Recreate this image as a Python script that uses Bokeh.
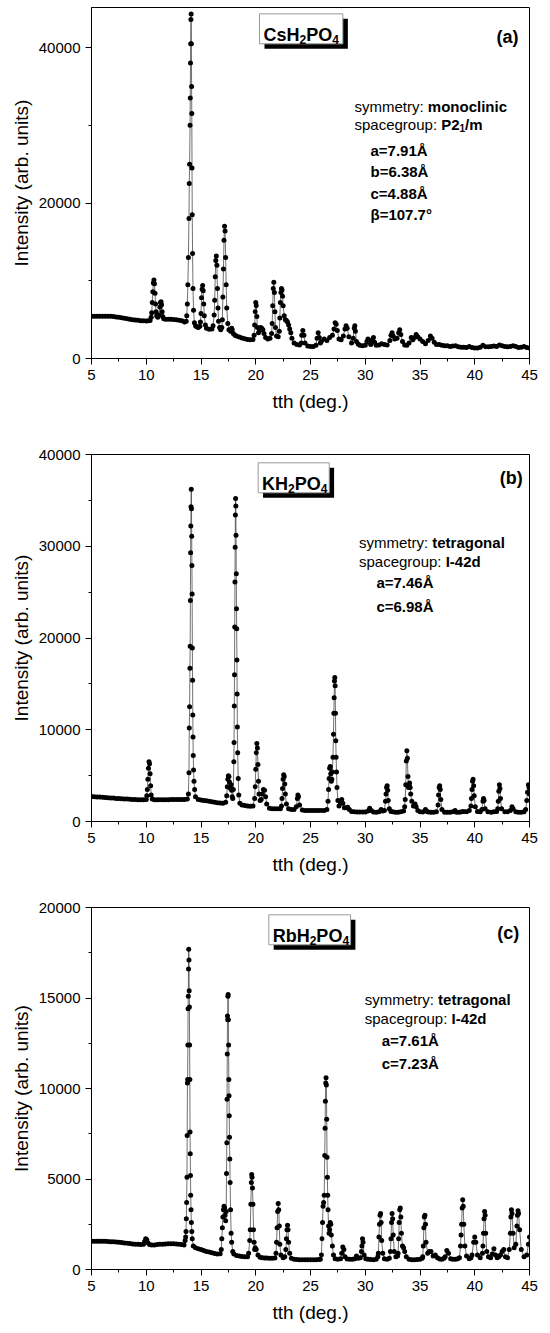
from bokeh.plotting import figure
from bokeh.layouts import column
from bokeh.models import Range1d, FixedTicker, Label
from bokeh.embed import file_html
from bokeh.resources import INLINE

# ---------------- data ----------------
x_ticks = [5, 10, 15, 20, 25, 30, 35, 40, 45]
x_tick_labels = ["5", "10", "15", "20", "25", "30", "35", "40", "45"]
x_minor_ticks = [7.5, 12.5, 17.5, 22.5, 27.5, 32.5, 37.5, 42.5]

y_ticks_a = [0, 20000, 40000]
y_tick_labels_a = ["0", "20000", "40000"]
y_minor_a = [10000, 30000]

y_ticks_b = [0, 10000, 20000, 30000, 40000]
y_tick_labels_b = ["0", "10000", "20000", "30000", "40000"]
y_minor_b = [5000, 15000, 25000, 35000]

y_ticks_c = [0, 5000, 10000, 15000, 20000]
y_tick_labels_c = ["0", "5000", "10000", "15000", "20000"]
y_minor_c = [2500, 7500, 12500, 17500]

# (2theta in deg, intensity in arb. units)
xrd_a = [
    (5.0, 5450), (5.25, 5450), (5.5, 5450), (5.75, 5450), (6.0, 5450), (6.25, 5450), (6.5, 5440), (6.75, 5420),
    (7.0, 5400), (7.25, 5350), (7.5, 5300), (7.75, 5240), (8.0, 5180), (8.25, 5120), (8.5, 5060), (8.75, 5000),
    (9.0, 4950), (9.25, 4910), (9.5, 4870), (9.75, 4850), (10.0, 4830), (10.2, 4840), (10.35, 4900),
    (10.45, 5300), (10.5, 5900), (10.55, 7200), (10.6, 8600), (10.65, 9700), (10.7, 10100), (10.75, 9600),
    (10.8, 8400), (10.85, 7000), (10.9, 6000), (10.95, 5500), (11.05, 5300), (11.15, 5600), (11.25, 6600),
    (11.3, 7200), (11.35, 7300), (11.4, 6900), (11.45, 6000), (11.5, 5400), (11.6, 5100),
    (11.75, 5050), (12.0, 5050), (12.25, 5050), (12.5, 5030), (12.75, 5000), (13.0, 4930), (13.25, 4850), (13.5, 4700),
    (13.65, 4800), (13.7, 5500), (13.75, 7000), (13.8, 9500), (13.85, 13000), (13.9, 18000), (13.93, 22500),
    (13.96, 25000), (14.0, 30000), (14.02, 33500), (14.04, 38000), (14.06, 40500), (14.08, 43600), (14.1, 44300),
    (14.12, 40500), (14.14, 35000), (14.16, 31500), (14.18, 24500), (14.2, 18500), (14.23, 13500), (14.27, 9000),
    (14.32, 6200), (14.4, 4600), (14.5, 4200),
    (14.6, 4100), (14.75, 4000), (14.9, 4150), (14.95, 4700), (15.0, 5800), (15.05, 7800), (15.1, 8900), (15.15, 9400),
    (15.2, 8700), (15.25, 7000), (15.3, 5500), (15.4, 4300), (15.5, 3900), (15.75, 3750), (16.0, 3800), (16.1, 4200),
    (16.2, 5600), (16.25, 7500), (16.3, 10500), (16.35, 12600), (16.4, 13200), (16.45, 12000), (16.5, 9000),
    (16.55, 6500), (16.6, 4800), (16.7, 4000), (16.8, 3700), (16.9, 4000), (16.95, 5000), (17.0, 7900),
    (17.05, 11500), (17.1, 15200), (17.15, 17000), (17.2, 16400), (17.25, 13000), (17.3, 9500), (17.35, 6500),
    (17.45, 4500), (17.55, 3700), (17.7, 3500), (17.8, 3900), (17.85, 3700), (17.95, 3200), (18.1, 3000),
    (18.25, 2900), (18.5, 2750), (18.75, 2650), (19.0, 2550), (19.25, 2450), (19.5, 2400), (19.75, 2450),
    (19.85, 3000), (19.9, 4300), (19.95, 6000), (20.0, 7200), (20.05, 6800), (20.1, 5400), (20.15, 4000),
    (20.25, 3300), (20.35, 3600), (20.45, 4000), (20.55, 3900), (20.65, 3700), (20.75, 3200), (20.9, 2700),
    (21.1, 2500), (21.3, 2600), (21.45, 3200), (21.5, 4500), (21.55, 6800), (21.6, 9000), (21.65, 9800),
    (21.7, 8500), (21.75, 6000), (21.8, 4000), (21.9, 2900), (22.05, 2800), (22.15, 3500), (22.2, 5200),
    (22.25, 7200), (22.3, 8500), (22.35, 9000), (22.4, 8800), (22.45, 8000), (22.5, 6800), (22.6, 5500),
    (22.7, 5000), (22.8, 4900), (22.9, 4700), (23.0, 4300), (23.1, 3800), (23.2, 3300), (23.3, 2600),
    (23.5, 2000), (23.75, 1800), (24.0, 1750), (24.15, 2000), (24.2, 3000), (24.3, 3600), (24.4, 3000),
    (24.5, 2000), (24.75, 1600), (25.0, 1550), (25.25, 1550), (25.5, 1700), (25.6, 2600), (25.7, 3300),
    (25.8, 2700), (25.9, 2000), (26.0, 2200), (26.25, 2500), (26.5, 2300), (26.75, 2700), (27.0, 3000),
    (27.15, 3800), (27.25, 4600), (27.35, 4400), (27.45, 3600), (27.6, 2500), (27.8, 2400), (28.0, 2900),
    (28.15, 3800), (28.25, 4200), (28.35, 3900), (28.5, 2800), (28.75, 2000), (28.9, 2600), (29.0, 3900),
    (29.05, 4200), (29.1, 3500), (29.2, 2200), (29.35, 1850), (29.5, 1700), (29.75, 1650), (30.0, 1700),
    (30.15, 2200), (30.25, 2500), (30.35, 2100), (30.5, 1800), (30.65, 2400), (30.75, 2700), (30.85, 2100),
    (31.0, 1700), (31.25, 1750), (31.5, 1900), (31.75, 1800), (32.0, 1750), (32.25, 2300), (32.35, 3000),
    (32.45, 3300), (32.55, 2900), (32.7, 2500), (32.9, 2600), (33.05, 3300), (33.15, 3700), (33.25, 3100),
    (33.4, 2200), (33.6, 1750), (33.8, 1700), (34.0, 2000), (34.2, 2700), (34.35, 2400), (34.5, 2700),
    (34.65, 3100), (34.8, 2800), (35.0, 2500), (35.25, 2200), (35.5, 1900), (35.75, 2300), (35.95, 2900),
    (36.1, 2600), (36.3, 2100), (36.5, 1800), (36.75, 1800), (37.0, 1700), (37.25, 1650), (37.5, 1650),
    (37.75, 1550), (38.0, 1600), (38.25, 1650), (38.5, 1500), (38.75, 1450), (39.0, 1450), (39.25, 1400),
    (39.5, 1550), (39.75, 1400), (40.0, 1350), (40.25, 1350), (40.5, 1450), (40.75, 1700), (41.0, 1500),
    (41.25, 1500), (41.5, 1550), (41.75, 1600), (42.0, 1550), (42.25, 1750), (42.5, 1650), (42.75, 1550),
    (43.0, 1500), (43.25, 1550), (43.5, 1650), (43.75, 1550), (44.0, 1400), (44.25, 1450), (44.5, 1550),
    (44.75, 1400), (45.0, 1350),
]

xrd_b = [
    (5.0, 2720), (5.25, 2700), (5.5, 2680), (5.75, 2660), (6.0, 2640), (6.25, 2620), (6.5, 2590), (6.75, 2570),
    (7.0, 2550), (7.25, 2520), (7.5, 2500), (7.75, 2480), (8.0, 2460), (8.25, 2440), (8.5, 2420), (8.75, 2400),
    (9.0, 2390), (9.25, 2380), (9.5, 2370), (9.75, 2360), (10.0, 2400),
    (10.05, 2800), (10.1, 3500), (10.15, 4600), (10.2, 5800), (10.25, 6500), (10.3, 6300), (10.35, 5200),
    (10.4, 3900), (10.45, 2900), (10.55, 2450), (10.75, 2380), (11.0, 2380), (11.25, 2380), (11.5, 2380),
    (11.75, 2380), (12.0, 2380), (12.25, 2390), (12.5, 2390), (12.75, 2390), (13.0, 2390), (13.25, 2400),
    (13.5, 2400), (13.75, 2450),
    (13.85, 3000), (13.9, 5300), (13.93, 10200), (13.96, 12500), (13.99, 16700), (14.01, 19100), (14.03, 24100),
    (14.05, 29300), (14.07, 32200), (14.09, 34300), (14.11, 36200), (14.13, 34100), (14.15, 31100),
    (14.17, 27900), (14.19, 24800), (14.21, 18900), (14.23, 15400), (14.25, 11600), (14.27, 9200),
    (14.29, 7200), (14.32, 5600), (14.36, 4400), (14.42, 3500), (14.5, 2700),
    (14.75, 2400), (15.0, 2350), (15.25, 2300), (15.5, 2250), (15.75, 2200), (16.0, 2150), (16.25, 2100),
    (16.5, 2050), (16.75, 2020), (17.0, 2000), (17.25, 2100),
    (17.35, 2800), (17.4, 3800), (17.45, 4600), (17.5, 5000), (17.55, 4900), (17.6, 4300), (17.65, 3700),
    (17.7, 3600), (17.75, 4000), (17.8, 3400), (17.85, 2700), (17.9, 2500),
    (17.95, 3500), (18.0, 6500), (18.02, 8600), (18.04, 12600), (18.06, 16000), (18.08, 21200), (18.1, 26100),
    (18.12, 29900), (18.14, 33400), (18.16, 35200), (18.18, 34400), (18.2, 31200), (18.22, 27000),
    (18.24, 23200), (18.26, 21000), (18.28, 17600), (18.3, 13900), (18.32, 10300), (18.35, 7500),
    (18.4, 4700), (18.45, 2900), (18.55, 2000),
    (18.75, 1800), (19.0, 1750), (19.25, 1700), (19.5, 1650), (19.75, 1700),
    (19.9, 2500), (19.95, 3800), (20.0, 5700), (20.05, 7500), (20.1, 8500), (20.15, 8000), (20.2, 6200),
    (20.25, 4400), (20.3, 3000), (20.4, 2300), (20.5, 2400), (20.6, 3000), (20.7, 3500), (20.8, 3400),
    (20.9, 2700), (21.0, 1900), (21.25, 1450), (21.5, 1400), (21.75, 1380), (22.0, 1380), (22.25, 1400),
    (22.35, 1700), (22.4, 2500), (22.45, 3600), (22.5, 4600), (22.55, 5100), (22.6, 4900), (22.65, 4100),
    (22.7, 3000), (22.8, 1900), (23.0, 1400), (23.25, 1300), (23.5, 1300), (23.7, 1600), (23.8, 2500),
    (23.85, 2900), (23.9, 2700), (24.0, 1800), (24.25, 1250), (24.5, 1200), (24.75, 1200), (25.0, 1200),
    (25.25, 1200), (25.5, 1200), (25.75, 1200), (26.0, 1200), (26.25, 1200), (26.5, 1300), (26.6, 2200),
    (26.65, 3500), (26.7, 4700), (26.75, 5800), (26.8, 6000), (26.85, 5200), (26.9, 4400), (26.95, 4600),
    (27.0, 5400), (27.05, 7000), (27.1, 9500), (27.13, 11800), (27.16, 13500), (27.19, 15300), (27.22, 15700),
    (27.25, 14800), (27.28, 11800), (27.31, 8800), (27.34, 7000), (27.38, 5400), (27.42, 3700), (27.5, 2300),
    (27.6, 1700), (27.75, 2000), (27.85, 2400), (27.95, 2000), (28.1, 1500), (28.25, 1500), (28.4, 1550),
    (28.55, 1300), (28.75, 1100), (29.0, 1050), (29.25, 1040), (29.5, 1030), (29.75, 1030), (30.0, 1030),
    (30.25, 1150), (30.4, 1450), (30.55, 1200), (30.75, 1030), (31.0, 1020), (31.25, 1050), (31.45, 1300),
    (31.6, 1150), (31.75, 1200), (31.85, 2200), (31.9, 3000), (31.95, 3700), (32.0, 3900), (32.05, 3400),
    (32.1, 2300), (32.2, 1400), (32.35, 1100), (32.5, 1050), (32.75, 1020), (33.0, 1020), (33.25, 1050),
    (33.5, 1150), (33.6, 1600), (33.65, 2400), (33.7, 4000), (33.75, 6600), (33.8, 7700), (33.85, 6900),
    (33.9, 4900), (33.95, 3700), (34.0, 3900), (34.05, 4200), (34.1, 3700), (34.15, 3000), (34.25, 2200),
    (34.4, 1700), (34.55, 1900), (34.65, 1600), (34.8, 1200), (35.0, 1050), (35.25, 1030), (35.5, 1300),
    (35.65, 1100), (35.75, 1030), (36.0, 1000), (36.25, 1000), (36.5, 1050), (36.65, 1800), (36.7, 2900),
    (36.75, 3700), (36.8, 3900), (36.85, 3500), (36.9, 2400), (37.0, 1300), (37.25, 1020), (37.5, 1000),
    (37.75, 1000), (38.0, 1050), (38.2, 1200), (38.35, 1020), (38.6, 1000), (38.8, 1050), (39.0, 1100),
    (39.25, 1050), (39.5, 1200), (39.65, 1700), (39.7, 2500), (39.75, 3500), (39.8, 4400), (39.85, 4600),
    (39.9, 3900), (39.95, 2800), (40.05, 1600), (40.25, 1100), (40.5, 1050), (40.65, 1300), (40.75, 2200),
    (40.8, 2500), (40.85, 2300), (40.95, 1400), (41.2, 1050), (41.5, 1000), (41.75, 1050), (42.0, 1100),
    (42.1, 1400), (42.15, 2200), (42.2, 3300), (42.25, 4000), (42.3, 3600), (42.35, 2500), (42.45, 1400),
    (42.75, 1050), (43.0, 1050), (43.25, 1200), (43.4, 1600), (43.5, 1400), (43.75, 1050), (44.0, 1000),
    (44.25, 1000), (44.5, 1050), (44.65, 1300), (44.75, 2300), (44.82, 3200), (44.9, 4000), (44.96, 3700),
    (45.0, 3000),
]

xrd_c = [
    (5.0, 1560), (5.25, 1560), (5.5, 1560), (5.75, 1560), (6.0, 1560), (6.25, 1555), (6.5, 1550), (6.75, 1540),
    (7.0, 1530), (7.25, 1515), (7.5, 1500), (7.75, 1485), (8.0, 1470), (8.25, 1450), (8.5, 1430), (8.75, 1415),
    (9.0, 1400), (9.25, 1390), (9.5, 1380), (9.75, 1400), (9.85, 1550), (9.95, 1700), (10.05, 1650),
    (10.15, 1480), (10.3, 1380), (10.5, 1350), (10.75, 1360), (11.0, 1380), (11.25, 1390), (11.5, 1400),
    (11.75, 1410), (12.0, 1420), (12.25, 1420), (12.5, 1420), (12.75, 1410), (13.0, 1400), (13.25, 1380),
    (13.45, 1350), (13.55, 1600),
    (13.6, 1800), (13.63, 2100), (13.66, 2800), (13.69, 3700), (13.72, 5100), (13.74, 7400), (13.76, 10300),
    (13.78, 10500), (13.8, 12400), (13.82, 14400), (13.84, 15100), (13.86, 16600), (13.88, 17700),
    (13.9, 17100), (13.92, 15400), (13.94, 14500), (13.96, 12400), (13.98, 10500), (14.0, 7600), (14.02, 6400),
    (14.04, 5200), (14.06, 4100), (14.09, 3300), (14.12, 2600), (14.16, 2100), (14.2, 1700), (14.3, 1300),
    (14.5, 1200), (14.75, 1150), (15.0, 1100), (15.25, 1050), (15.5, 1000), (15.75, 960), (16.0, 920),
    (16.25, 880), (16.5, 850), (16.75, 870), (16.85, 1100),
    (16.9, 1700), (16.95, 2300), (17.0, 2900), (17.05, 3300), (17.1, 3500), (17.15, 3400), (17.2, 3000),
    (17.25, 2700), (17.3, 3200),
    (17.33, 5300), (17.36, 7000), (17.38, 9400), (17.4, 11900), (17.42, 14000), (17.44, 13800), (17.46, 15100),
    (17.48, 15200), (17.5, 13800), (17.52, 12400), (17.54, 10500), (17.56, 9600), (17.58, 8500), (17.6, 7300),
    (17.63, 6100), (17.66, 4800), (17.7, 3300), (17.75, 2000), (17.8, 1500), (17.9, 1000), (18.0, 850),
    (18.25, 780), (18.5, 740), (18.75, 720), (19.0, 700), (19.25, 700), (19.35, 900), (19.45, 1600),
    (19.5, 2200), (19.55, 3600), (19.6, 4800), (19.63, 5250), (19.66, 5100), (19.7, 4500), (19.75, 3600),
    (19.8, 2200), (19.85, 1500), (19.9, 1100), (19.95, 1200), (20.05, 1100), (20.2, 800), (20.4, 680),
    (20.6, 650), (20.8, 640), (21.0, 630), (21.25, 620), (21.5, 620), (21.75, 640), (21.85, 900), (21.9, 1500),
    (21.95, 2300), (22.0, 3200), (22.05, 3650), (22.1, 3300), (22.15, 2400), (22.2, 1400), (22.3, 800),
    (22.5, 650), (22.65, 700), (22.75, 1100), (22.8, 1700), (22.85, 2200), (22.9, 2450), (22.95, 2200),
    (23.0, 1500), (23.1, 900), (23.25, 620), (23.5, 560), (23.75, 550), (24.0, 540), (24.25, 540), (24.5, 540),
    (24.75, 540), (25.0, 540), (25.25, 540), (25.5, 540), (25.75, 550), (25.9, 560), (26.0, 800),
    (26.05, 1700), (26.1, 2600), (26.15, 3500), (26.2, 3700), (26.25, 4100), (26.3, 6300), (26.33, 7800),
    (26.36, 9300), (26.39, 10300), (26.42, 10600), (26.45, 10200), (26.48, 8300), (26.51, 6200), (26.54, 5100),
    (26.57, 4100), (26.6, 3300), (26.65, 2400), (26.7, 2000), (26.75, 2200), (26.8, 2600), (26.85, 2500),
    (26.9, 1900), (27.0, 1300), (27.1, 800), (27.25, 600), (27.5, 560), (27.75, 600), (27.85, 900),
    (27.95, 1250), (28.05, 1100), (28.15, 700), (28.35, 580), (28.6, 560), (28.85, 560), (29.05, 600),
    (29.2, 750), (29.35, 620), (29.55, 650), (29.65, 1000), (29.7, 1300), (29.75, 1700), (29.8, 1500),
    (29.9, 800), (30.05, 600), (30.25, 560), (30.5, 550), (30.75, 540), (31.0, 560), (31.15, 700),
    (31.2, 900), (31.25, 1800), (31.3, 2500), (31.35, 3000), (31.4, 3100), (31.45, 2600), (31.5, 1600),
    (31.6, 900), (31.75, 600), (32.0, 560), (32.2, 620), (32.3, 1000), (32.35, 1700), (32.4, 2600),
    (32.45, 3100), (32.5, 2800), (32.55, 1900), (32.65, 1000), (32.8, 700), (32.95, 750), (33.0, 900),
    (33.05, 1700), (33.1, 2600), (33.15, 3300), (33.2, 3400), (33.25, 2900), (33.3, 2000), (33.4, 1300),
    (33.5, 1200), (33.6, 1000), (33.75, 700), (34.0, 560), (34.25, 540), (34.5, 540), (34.75, 550),
    (35.0, 560), (35.2, 620), (35.25, 700), (35.3, 1300), (35.35, 2300), (35.4, 2900), (35.45, 3000),
    (35.5, 2500), (35.55, 1500), (35.7, 900), (35.85, 1000), (36.0, 1000), (36.2, 750), (36.4, 800),
    (36.6, 650), (36.8, 580), (37.0, 560), (37.2, 620), (37.3, 700), (37.45, 1050), (37.6, 900), (37.8, 600),
    (38.0, 560), (38.25, 560), (38.45, 600), (38.6, 650), (38.7, 1300), (38.75, 1900), (38.8, 2500),
    (38.85, 3400), (38.9, 3850), (38.95, 3500), (39.0, 2500), (39.1, 1300), (39.25, 750), (39.5, 600),
    (39.65, 650), (39.75, 800), (39.9, 1500), (40.0, 1800), (40.1, 1500), (40.25, 800), (40.5, 650),
    (40.7, 900), (40.75, 1300), (40.8, 2000), (40.85, 2800), (40.9, 3200), (40.95, 3000), (41.0, 2000),
    (41.1, 1000), (41.25, 700), (41.45, 650), (41.6, 850), (41.75, 1150), (41.9, 800), (42.05, 650),
    (42.2, 700), (42.35, 800), (42.5, 1000), (42.65, 1100), (42.8, 700), (43.0, 650), (43.15, 1100),
    (43.25, 2000), (43.3, 2900), (43.35, 3300), (43.4, 3100), (43.5, 2000), (43.6, 1200), (43.75, 1400),
    (43.85, 2400), (43.9, 3000), (43.95, 3250), (44.0, 3100), (44.1, 2200), (44.25, 1100), (44.5, 700),
    (44.75, 800), (44.9, 1400), (45.0, 1800),
]

compounds = [[("CsH", False), ("2", True), ("PO", False), ("4", True)],
             [("KH", False), ("2", True), ("PO", False), ("4", True)],
             [("RbH", False), ("2", True), ("PO", False), ("4", True)]]
panel_tags = ["(a)", "(b)", "(c)"]
symmetries = ["monoclinic", "tetragonal", "tetragonal"]
spacegroups = [[("P2", False), ("1", True), ("/m", False)],
               [("I-42d", False)],
               [("I-42d", False)]]
cell_params = [["a=7.91Å", "b=6.38Å", "c=4.88Å", "β=107.7°"],
               ["a=7.46Å", "c=6.98Å"],
               ["a=7.61Å", "c=7.23Å"]]

# ---------------- styling / layout ----------------
FONT = "Liberation Sans"
REG_W = {" ": 278, ":": 278, "a": 556, "c": 500, "e": 556, "g": 556, "m": 833, "o": 556,
         "p": 556, "r": 333, "s": 500, "t": 278, "u": 556, "y": 500}
BOLD_W = {" ": 278, "(": 333, ")": 333, "-": 333, ".": 278, "/": 278, "=": 584,
          "C": 722, "H": 722, "I": 278, "K": 722, "O": 778, "P": 667, "R": 722,
          "a": 556, "b": 611, "c": 556, "d": 611, "m": 889, "s": 556}


def tw(s, size, bold):
    table = BOLD_W if bold else REG_W
    return sum(table.get(ch, 556) for ch in s) * size / 1000.0


# reference geometry of each frame (pixels of the reference picture)
ref_geom = [
    dict(L=91, R=529, B=358, ppu=(358 - 47) / 40000),
    dict(L=83, R=535, B=821, ppu=(821 - 454) / 40000),
    dict(L=84, R=536, B=1269, ppu=(1269 - 907) / 20000),
]
# figure sizes: width, height, borders (left, right, top, bottom), y max
fig_spec = [
    dict(W=548, H=430, bl=91, br=19, bt=7, bb=72, ymax=45150),
    dict(W=548, H=450, bl=83, br=13, bt=24, bb=59, ymax=40000),
    dict(W=548, H=450, bl=84, br=12, bt=27, bb=61, ymax=20000),
]
# annotation positions (reference pixels)
ann_pos = [
    dict(title_x=263, title_base=34, tag_right=518, tag_base=36.6, info_x=354, sym_base=106,
         sg_base=124, param_x=370, param_bases=[150, 171, 192.5, 213.5]),
    dict(title_x=259, title_base=483, tag_right=528, tag_base=477.6, info_x=359, sym_base=542,
         sg_base=561, param_x=377, param_bases=[582, 606]),
    dict(title_x=271, title_base=935, tag_right=525.5, tag_base=932.6, info_x=366, sym_base=999,
         sg_base=1018, param_x=383.5, param_bases=[1040, 1063]),
]
tick_sets = [(y_ticks_a, y_tick_labels_a, y_minor_a),
             (y_ticks_b, y_tick_labels_b, y_minor_b),
             (y_ticks_c, y_tick_labels_c, y_minor_c)]
datasets = [xrd_a, xrd_b, xrd_c]


def add_label(p, x, y, text, size, bold, x_offset=0, align="left"):
    p.add_layout(Label(x=x, y=y, x_offset=x_offset, text=text, text_font=FONT,
                       text_font_size=f"{size}px",
                       text_font_style="bold" if bold else "normal",
                       text_color="black", text_align=align,
                       text_baseline="alphabetic"))


def make_panel(i):
    fs = fig_spec[i]
    g = ref_geom[i]
    pos = ann_pos[i]
    fw = fs["W"] - fs["bl"] - fs["br"]
    pxu = 40.0 / fw

    def dx(px):
        return 5 + (px - g["L"]) * 40.0 / (g["R"] - g["L"])

    def dy(py):
        return (g["B"] - py) / g["ppu"]

    p = figure(width=fs["W"], height=fs["H"], output_backend="svg", toolbar_location=None,
               x_range=Range1d(5, 45), y_range=Range1d(0, fs["ymax"]),
               min_border_left=fs["bl"], min_border_right=fs["br"],
               min_border_top=fs["bt"], min_border_bottom=fs["bb"])
    p.background_fill_color = "white"
    p.border_fill_color = "white"
    p.outline_line_color = "black"
    p.outline_line_width = 1
    p.grid.visible = False

    yt, ytl, ym = tick_sets[i]
    p.xaxis.ticker = FixedTicker(ticks=x_ticks, minor_ticks=x_minor_ticks)
    p.xaxis.major_label_overrides = {t: l for t, l in zip(x_ticks, x_tick_labels)}
    p.yaxis.ticker = FixedTicker(ticks=yt, minor_ticks=ym)
    p.yaxis.major_label_overrides = {t: l for t, l in zip(yt, ytl)}
    p.xaxis.axis_label = "tth (deg.)"
    p.yaxis.axis_label = "Intensity (arb. units)"
    for ax in (p.xaxis[0], p.yaxis[0]):
        ax.axis_label_text_font = FONT
        ax.axis_label_text_font_size = "19px"
        ax.axis_label_text_font_style = "normal"
        ax.axis_label_text_color = "black"
        ax.major_label_text_font = FONT
        ax.major_label_text_font_size = "15px"
        ax.major_label_text_color = "black"
        ax.axis_line_color = "black"
        ax.axis_line_width = 1
        ax.major_tick_line_color = "black"
        ax.minor_tick_line_color = "black"
        ax.major_tick_in = 0
        ax.major_tick_out = 6
        ax.minor_tick_in = 0
        ax.minor_tick_out = 3
        ax.major_label_standoff = 5
    p.xaxis.axis_label_standoff = 8
    p.yaxis.axis_label_standoff = 4

    pts = sorted(datasets[i])
    xs = [a for a, _ in pts]
    ys = [b for _, b in pts]
    p.line(xs, ys, line_color="#333333", line_width=0.7)
    p.scatter(xs, ys, size=5, marker="circle", fill_color="black", line_color=None)

    # compound title box with shadow
    parts = compounds[i]
    base = pos["title_base"]
    x0 = dx(pos["title_x"])
    total = sum(tw(t, 12 if sub else 18, True) for t, sub in parts)
    left = x0 - 4 * pxu
    right = x0 + (total + 4) * pxu
    p.quad(left=[left + 5 * pxu], right=[right + 5 * pxu], top=[dy(base - 20.7 + 5)],
           bottom=[dy(base + 9.3 + 5)], fill_color="black", line_color=None)
    p.quad(left=[left], right=[right], top=[dy(base - 20.7)], bottom=[dy(base + 9.3)],
           fill_color="white", line_color="#9a9a9a", line_width=1)
    off = 0.0
    for t, sub in parts:
        size = 12 if sub else 18
        add_label(p, x0, dy(base + (4.5 if sub else 0)), t, size, True, x_offset=off)
        off += tw(t, size, True)

    # panel tag
    add_label(p, dx(pos["tag_right"]), dy(pos["tag_base"]), panel_tags[i], 18, True, align="right")

    # symmetry / spacegroup
    ix = dx(pos["info_x"])
    add_label(p, ix, dy(pos["sym_base"]), "symmetry: ", 15, False)
    add_label(p, ix, dy(pos["sym_base"]), symmetries[i], 15, True, x_offset=tw("symmetry: ", 15, False))
    add_label(p, ix, dy(pos["sg_base"]), "spacegroup: ", 15, False)
    off = tw("spacegroup: ", 15, False)
    for t, sub in spacegroups[i]:
        size = 10 if sub else 15
        add_label(p, ix, dy(pos["sg_base"] + (3 if sub else 0)), t, size, True, x_offset=off)
        off += tw(t, size, True)

    # lattice parameters
    px_ = dx(pos["param_x"])
    for t, b in zip(cell_params[i], pos["param_bases"]):
        add_label(p, px_, dy(b), t, 15, True)
    return p


panels = [make_panel(i) for i in range(3)]
layout = column(*panels, spacing=0)

with open("out.html", "w") as f:
    f.write(file_html(layout, INLINE))
